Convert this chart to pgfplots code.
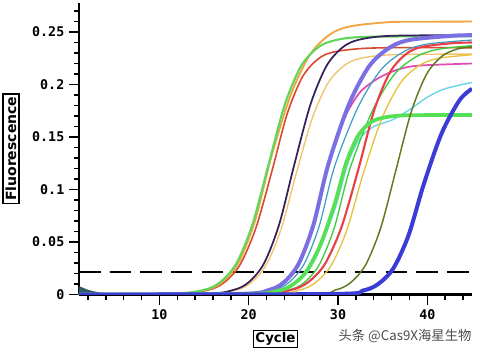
\documentclass[border=0pt]{standalone}
\usepackage{pgfplots}
\pgfplotsset{compat=1.18}
\usepackage{fontspec}
\setmainfont{DejaVu Sans}
\newfontfamily\monofont{DejaVu Sans Mono}
\newfontfamily\cjk{Noto Sans CJK SC}
\definecolor{cgold}{HTML}{EFA640}
\definecolor{clime}{HTML}{62D65A}
\definecolor{cred}{HTML}{D64A30}
\definecolor{ctan}{HTML}{F1C36B}
\definecolor{cdpur}{HTML}{35205A}
\definecolor{clav}{HTML}{7A6FE3}
\definecolor{cteal}{HTML}{3A9CC4}
\definecolor{cmag}{HTML}{E04AB4}
\definecolor{ccyan}{HTML}{6ED6EA}
\definecolor{cgreen}{HTML}{55E055}
\definecolor{cred2}{HTML}{E8404A}
\definecolor{cgthin}{HTML}{3ECB3E}
\definecolor{colive}{HTML}{5E7A1E}
\definecolor{cyel}{HTML}{E6C23E}
\definecolor{cblue}{HTML}{3B3BD6}
\definecolor{cbase}{HTML}{2F5A66}
\begin{document}
\begin{tikzpicture}
\path[use as bounding box] (-59.25pt,-43.1pt) rectangle ++(360pt,264pt);
\begin{axis}[
  at={(0,0)}, anchor=south west,
  scale only axis, width=294.75pt, height=218.6pt,
  xmin=1, xmax=45, ymin=0, ymax=0.2776,
  axis x line=bottom, axis y line=left,
  axis line style={-, line width=1.6pt, black},
  xtick={10,20,30,40}, xticklabels={10,20,30,40},
  minor xtick={2,4,6,8,12,14,16,18,22,24,26,28,32,34,36,38,42,44},
  ytick={0,0.05,0.1,0.15,0.2,0.25}, yticklabels={0,0.05,0.1,0.15,0.2,0.25},
  minor ytick={0.01,0.02,0.03,0.04,0.06,0.07,0.08,0.09,0.11,0.12,0.13,0.14,0.16,0.17,0.18,0.19,0.21,0.22,0.23,0.24,0.26,0.27},
  scaled y ticks=false,
  tick align=outside,
  major tick length=7.5pt, minor tick length=4pt,
  tick style={line width=1.1pt, black},
  ticklabel style={font=\monofont\bfseries\fontsize{10}{12}\selectfont},
  xlabel={Cycle},
  xlabel style={at={(axis description cs:0.5,-0.1528)}, anchor=center, draw, line width=1.3pt, inner sep=1.5pt, font=\bfseries\fontsize{10}{12}\selectfont},
  ylabel={Fluorescence},
  ylabel style={at={(axis description cs:-0.173,0.5)}, anchor=center, draw, line width=1.3pt, inner sep=2pt, font=\bfseries\fontsize{10.5}{12}\selectfont},
  every axis plot/.append style={smooth, line join=round},
]
\addplot[draw=none, fill=cbase, smooth=false] coordinates {(1,0) (1,0.0075) (2,0.0045) (3,0.0025) (4,0.0012) (6,0.0004) (8,0)} \closedcycle;
% threshold
\addplot[black, line width=1.5pt, dash pattern=on 16pt off 7pt, smooth=false] coordinates {(1,0.0214) (45,0.0214)};
% group 1
\addplot[cred, line width=1.2pt] coordinates {(1,0) (11.8,0.0006) (15.4,0.0042) (17.2,0.0111) (19.0,0.0280) (20.8,0.0632) (22.6,0.1175) (24.3,0.1718) (26.0,0.2070) (27.7,0.2239) (29.4,0.2308) (32.8,0.2344) (38,0.2352) (45,0.2350)};
\addplot[cgold, line width=1.4pt] coordinates {(1,0) (11.7,0.0007) (15.3,0.0047) (17.1,0.0123) (18.9,0.0310) (20.7,0.0699) (22.5,0.1300) (24.7,0.1901) (26.9,0.2290) (29.1,0.2477) (31.3,0.2553) (35.7,0.2594) (40,0.2598) (45,0.2600)};
\addplot[clime, line width=1.6pt] coordinates {(1,0) (11.4,0.0006) (15.0,0.0044) (16.8,0.0117) (18.6,0.0293) (20.4,0.0662) (22.2,0.1230) (24.0,0.1798) (25.8,0.2167) (27.6,0.2343) (29.4,0.2416) (33.0,0.2454) (45,0.2460)};
% group 2
\addplot[ctan, line width=1pt] coordinates {(1,0) (15.1,0.0006) (18.5,0.0041) (20.2,0.0109) (21.9,0.0273) (23.6,0.0616) (25.3,0.1145) (27.1,0.1674) (28.9,0.2017) (30.7,0.2181) (32.5,0.2249) (36.1,0.2284) (45,0.2290)};
\addplot[cdpur, line width=1.3pt] coordinates {(1,0) (14.9,0.0006) (18.3,0.0044) (20.0,0.0117) (21.7,0.0294) (23.4,0.0664) (25.1,0.1235) (26.9,0.1806) (28.7,0.2176) (30.5,0.2353) (32.3,0.2426) (35.9,0.2464) (45,0.2470)};
% group 3
\addplot[cmag, line width=1.3pt] coordinates {(1,0) (19.0,0.0006) (22.3,0.0044) (23.95,0.0117) (25.6,0.0294) (27.25,0.0664) (28.9,0.1235) (30.0,0.1520) (31.0,0.1730) (32.5,0.1930) (34.5,0.2060) (36.6,0.2140) (39,0.2180) (45,0.2200)};
\addplot[cteal, line width=0.9pt] coordinates {(1,0) (19.4,0.0006) (22.8,0.0044) (24.5,0.0115) (26.2,0.0290) (27.9,0.0653) (29.6,0.1215) (32.2,0.1777) (34.8,0.2140) (37.4,0.2315) (40.0,0.2386) (45,0.2424)};
\addplot[clav, line width=3pt] coordinates {(1,0) (19.0,0.0006) (22.3,0.0044) (23.95,0.0117) (25.6,0.0294) (27.25,0.0664) (28.9,0.1235) (31.2,0.1806) (33.5,0.2176) (35.8,0.2353) (38.1,0.2426) (42.7,0.2464) (45,0.2470)};
% group 4
\addplot[ccyan, line width=1.1pt] coordinates {(1,0) (19.9,0.0004) (23.2,0.0031) (24.8,0.0081) (26.5,0.0204) (28.1,0.0460) (29.8,0.0855) (31.1,0.1250) (32.4,0.1480) (34,0.1600) (36,0.1660) (38,0.1760) (40,0.1880) (42,0.1960) (45,0.2020)};
\addplot[cgthin, line width=1pt] coordinates {(1,0) (21.1,0.0006) (24.5,0.0043) (26.2,0.0113) (27.9,0.0284) (29.6,0.0640) (31.3,0.1190) (33.8,0.1740) (36.3,0.2096) (38.8,0.2267) (41.3,0.2337) (45,0.2370)};
\addplot[cyel, line width=1pt] coordinates {(1,0) (22.0,0.0006) (25.6,0.0041) (27.4,0.0109) (29.2,0.0273) (31.0,0.0616) (32.8,0.1145) (34.9,0.1674) (37.0,0.2017) (39.1,0.2181) (41.2,0.2249) (45,0.2284)};
\addplot[cred2, line width=1.6pt] coordinates {(1,0) (20.9,0.0006) (24.7,0.0043) (26.6,0.0114) (28.5,0.0286) (30.4,0.0645) (32.3,0.1200) (34.05,0.1755) (35.8,0.2114) (37.55,0.2286) (39.3,0.2357) (42.8,0.2394) (45,0.2400)};
\addplot[cgreen, line width=2.8pt] coordinates {(1,0) (19.76,0.0004) (23.04,0.0031) (24.68,0.0081) (26.32,0.0204) (27.96,0.0460) (29.6,0.0855) (30.9,0.1250) (32.2,0.1506) (33.5,0.1629) (34.8,0.1679) (37.4,0.1706) (45,0.1710)};
% group 5
\addplot[colive, line width=1.1pt] coordinates {(1,0) (26.3,0.0006) (29.7,0.0043) (31.4,0.0113) (33.1,0.0284) (34.8,0.0640) (36.5,0.1190) (38.2,0.1740) (39.9,0.2096) (41.6,0.2267) (43.3,0.2337) (45,0.2360)};
\addplot[cblue, line width=3pt] coordinates {(1,0) (29.4,0.0005) (32.8,0.0038) (34.5,0.0100) (36.2,0.0250) (37.9,0.0565) (39.6,0.1050) (41.6,0.1535) (43.6,0.1850) (45,0.1960)};
\end{axis}
\node[font=\cjk\fontsize{10}{12}\selectfont, text=black!70] at (244.5pt,-31pt) {头条 @Cas9X海星生物};
\end{tikzpicture}
\end{document}
